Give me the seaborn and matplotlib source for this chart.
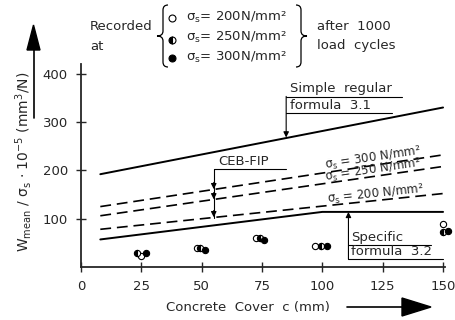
import matplotlib
matplotlib.use("Agg")
import matplotlib.pyplot as plt
import seaborn as sns
from matplotlib.patches import Polygon, PathPatch
from matplotlib.path import Path

# ---- data ----
# calculated lines (concrete cover in mm -> w_mean / sigma_s * 1e-5)
cover_ends = [8, 150]
simple_regular = [192, 330]
ceb_300 = [125, 232]
ceb_250 = [106, 208]
ceb_200 = [78, 152]
specific_x = [8, 100, 150]
specific_y = [57, 114, 114]

# recorded after 1000 load cycles
rec200_x = [25, 48, 72.5, 97, 150]
rec200_y = [23, 40, 60, 44, 88]
rec250_x = [23, 49.5, 74, 99.5, 150]
rec250_y = [30, 40, 59, 43, 73]
rec300_x = [27, 51.5, 76, 102, 152]
rec300_y = [30, 36, 56, 43, 75]

x_ticks = [0, 25, 50, 75, 100, 125, 150]
y_ticks = [100, 200, 300, 400]

sns.set_style("ticks")
plt.rcParams['font.family'] = ['DejaVu Sans']

W, H = 455, 320
fig = plt.figure(figsize=(W / 100, H / 100), dpi=100)


def fx(px):
    return px / W


def fy(py):
    return 1 - py / H


def brace(x_main, x_tip, x_end, top, bottom):
    # curly brace in pixel coords, drawn on the figure
    mid = (top + bottom) / 2
    pts = [(x_end, top), (x_main, top), (x_main, top + 5),
           (x_main, mid - 5), (x_main, mid), (x_tip, mid),
           (x_main, mid), (x_main, mid + 5),
           (x_main, bottom - 5), (x_main, bottom), (x_end, bottom)]
    codes = [Path.MOVETO, Path.CURVE3, Path.CURVE3,
             Path.LINETO, Path.CURVE3, Path.CURVE3,
             Path.CURVE3, Path.CURVE3,
             Path.LINETO, Path.CURVE3, Path.CURVE3]
    verts = [(fx(a), fy(b)) for a, b in pts]
    fig.add_artist(PathPatch(Path(verts, codes), fill=False, lw=0.9,
                             ec='k', transform=fig.transFigure))


ax = fig.add_axes([fx(81), fy(267), (445 - 81) / W, (267 - 64) / H])
ax.set_xlim(0, 150.8)
ax.set_ylim(0, 420)

# -----------------------------
# lines
# -----------------------------
sns.lineplot(x=cover_ends, y=simple_regular, ax=ax, color='k', lw=1.4)
sns.lineplot(x=specific_x, y=specific_y, ax=ax, color='k', lw=1.4)
for ys in [ceb_300, ceb_250, ceb_200]:
    sns.lineplot(x=cover_ends, y=ys, ax=ax, color='k', lw=1.2,
                 linestyle=(0, (6.5, 3.5)))

# -----------------------------
# recorded points
# -----------------------------
sns.lineplot(x=rec200_x, y=rec200_y, ax=ax, marker='o', linestyle='none',
             ms=4.5, mfc='white', mec='k', mew=0.8, clip_on=False)
sns.lineplot(x=rec250_x, y=rec250_y, ax=ax, marker='o', linestyle='none',
             ms=4.5, mfc='k', fillstyle='left', markerfacecoloralt='white',
             mec='k', mew=0.8, clip_on=False)
sns.lineplot(x=rec300_x, y=rec300_y, ax=ax, marker='o', linestyle='none',
             ms=4.5, mfc='k', mec='k', mew=0.8, clip_on=False)

# -----------------------------
# axes styling
# -----------------------------
sns.despine(ax=ax)
for s in ['left', 'bottom']:
    ax.spines[s].set_linewidth(1.3)
ax.set_xticks(x_ticks)
ax.set_yticks(y_ticks)
ax.set_xticklabels([str(t) for t in x_ticks], fontsize=9.5)
ax.set_yticklabels([str(t) for t in y_ticks], fontsize=9.5)
ax.tick_params(axis='both', direction='inout', length=7, width=1, pad=6)
ax.set_xlabel('')
ax.set_ylabel('')

# -----------------------------
# annotations
# -----------------------------
fs = 9.5
# simple regular formula 3.1
ax.plot([85, 133], [352, 352], color='k', lw=0.8)
ax.plot([85, 129], [318, 318], color='k', lw=0.8)
ax.text(86.5, 355, 'Simple  regular', fontsize=fs, va='bottom')
ax.text(86.5, 321, 'formula  3.1', fontsize=fs, va='bottom')
ax.annotate('', xy=(85, 268), xytext=(85, 353),
            arrowprops=dict(arrowstyle='-|>', color='k', lw=0.8,
                            mutation_scale=8, shrinkA=0, shrinkB=0))

# CEB-FIP bracket
ax.plot([55, 85], [202, 202], color='k', lw=0.8)
ax.text(57, 205, 'CEB-FIP', fontsize=fs, va='bottom')
ax.plot([55, 55], [202, 102], color='k', lw=0.8)
for yt in [161, 140, 103]:
    ax.annotate('', xy=(55, yt), xytext=(55, yt + 14),
                arrowprops=dict(arrowstyle='-|>', color='k', lw=0.8,
                                mutation_scale=8, shrinkA=0, shrinkB=0))

# sigma labels along dashed lines
ax.text(121, 224, 'σ$_\\mathrm{s}$ = 300 N/mm²', fontsize=8.5, rotation=8.5,
        ha='center', va='center')
ax.text(121, 200, 'σ$_\\mathrm{s}$ = 250 N/mm²', fontsize=8.5, rotation=8.5,
        ha='center', va='center')
ax.text(122, 150, 'σ$_\\mathrm{s}$ = 200 N/mm²', fontsize=8.5, rotation=6,
        ha='center', va='center')

# specific formula 3.2
ax.plot([110.8, 145], [45, 45], color='k', lw=0.8)
ax.plot([110.8, 150], [16, 16], color='k', lw=0.8)
ax.text(112, 48, 'Specific', fontsize=fs, va='bottom')
ax.text(112, 19, 'formula  3.2', fontsize=fs, va='bottom')
ax.annotate('', xy=(110.8, 114), xytext=(110.8, 16),
            arrowprops=dict(arrowstyle='-|>', color='k', lw=0.8,
                            mutation_scale=8, shrinkA=0, shrinkB=0))

# -----------------------------
# axis titles with arrows
# -----------------------------
fig.text(fx(24), fy(162),
         'W$_\\mathrm{mean}$ / σ$_\\mathrm{s}$ · 10$^{-5}$ (mm$^3$/N)',
         rotation=90, ha='center', va='center', fontsize=10)
fig.add_artist(plt.Line2D([fx(34), fx(34)], [fy(118), fy(48)], color='k',
                          lw=1.2, transform=fig.transFigure))
fig.add_artist(Polygon([[fx(27), fy(50)], [fx(40), fy(50)], [fx(33.5), fy(25)]],
                       closed=True, color='k', transform=fig.transFigure))

fig.text(fx(248), fy(307), 'Concrete  Cover  c (mm)', ha='center',
         va='center', fontsize=9.5)
fig.add_artist(plt.Line2D([fx(347), fx(405)], [fy(307), fy(307)], color='k',
                          lw=1.2, transform=fig.transFigure))
fig.add_artist(Polygon([[fx(402), fy(298)], [fx(402), fy(316)], [fx(431), fy(307)]],
                       closed=True, color='k', transform=fig.transFigure))

# -----------------------------
# key at the top
# -----------------------------
fig.text(fx(90), fy(27), 'Recorded', fontsize=9.5, va='center')
fig.text(fx(90), fy(46), 'at', fontsize=9.5, va='center')
brace(163, 157, 168, 5, 67)
brace(301, 307, 296, 5, 67)
rows = [(17, 'σ$_\\mathrm{s}$= 200N/mm²'), (37, 'σ$_\\mathrm{s}$= 250N/mm²'),
        (57, 'σ$_\\mathrm{s}$= 300N/mm²')]
for py, label in rows:
    fig.text(fx(186), fy(py), label, fontsize=9.5, va='center')
fig.add_artist(plt.Line2D([fx(172)], [fy(18)], marker='o', ms=5, mfc='white',
                          mec='k', mew=0.8, transform=fig.transFigure))
fig.add_artist(plt.Line2D([fx(172)], [fy(40)], marker='o', ms=5, mfc='k',
                          fillstyle='left', markerfacecoloralt='white',
                          mec='k', mew=0.8, transform=fig.transFigure))
fig.add_artist(plt.Line2D([fx(172)], [fy(58)], marker='o', ms=5, mfc='k',
                          mec='k', mew=0.8, transform=fig.transFigure))
fig.text(fx(317), fy(26), 'after  1000', fontsize=9.5, va='center')
fig.text(fx(317), fy(45), 'load  cycles', fontsize=9.5, va='center')

fig.savefig('out.png', dpi=100)
